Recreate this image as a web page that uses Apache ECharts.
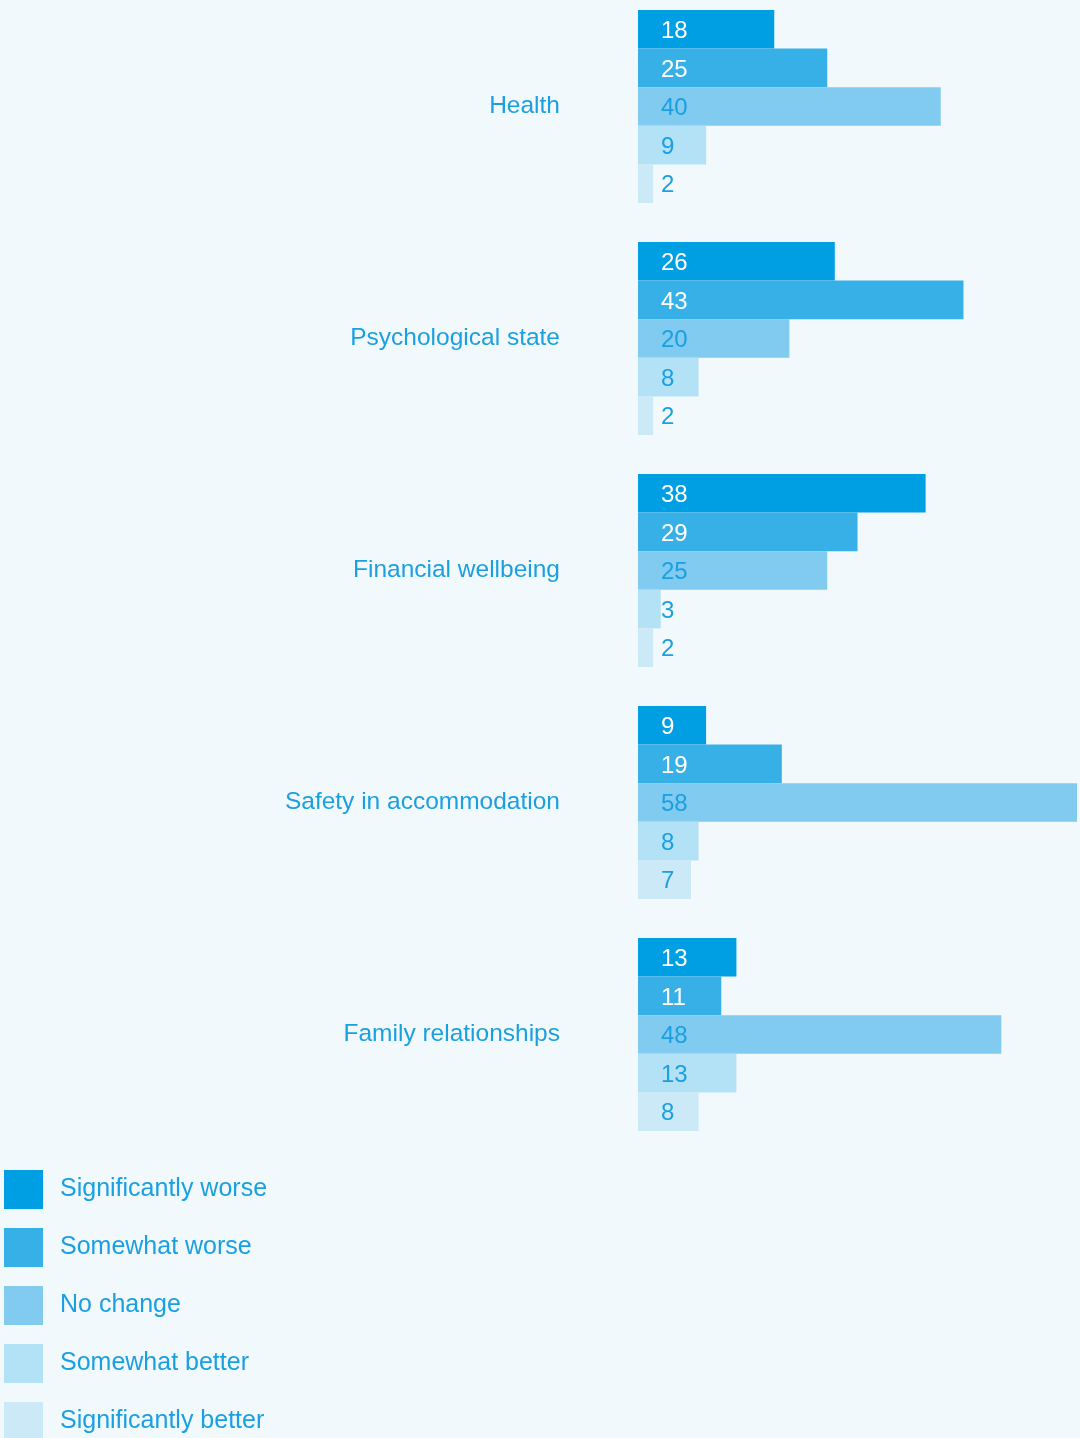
<!DOCTYPE html>
<html lang="en">
<head>
    <meta charset="UTF-8">
    <title>Change in wellbeing</title>
    <style>
        html, body { margin: 0; padding: 0; background: #f2f9fd; }
        #bar { width: 1080px; height: 1438px; }
    </style>
    <script src="https://cdn.jsdelivr.net/npm/echarts@6/dist/echarts.min.js"></script>
</head>
<body>
    <div id="bar"></div>
    <script>
        var categories = ['Health', 'Psychological state', 'Financial wellbeing', 'Safety in accommodation', 'Family relationships'];
        var seriesNames = ['Significantly worse', 'Somewhat worse', 'No change', 'Somewhat better', 'Significantly better'];
        var sigWorse = [18, 26, 38, 9, 13];
        var someWorse = [25, 43, 29, 19, 11];
        var noChange = [40, 20, 25, 58, 48];
        var someBetter = [9, 8, 3, 8, 13];
        var sigBetter = [2, 2, 2, 7, 8];

        var values = [sigWorse, someWorse, noChange, someBetter, sigBetter];
        var colors = ['#009fe3', '#36b0e6', '#80cbef', '#b3e1f6', '#cce9f7'];
        var labelColors = ['#ffffff', '#ffffff', '#1a9fe0', '#1a9fe0', '#1a9fe0'];
        var font = '"Liberation Sans", Arial, sans-serif';

        var series = values.map(function (d, i) {
            return {
                name: seriesNames[i],
                type: 'bar',
                barWidth: 38.6,
                barGap: 0,
                itemStyle: { color: colors[i] },
                label: {
                    show: true,
                    position: [23, '50%'],
                    offset: [0, 2],
                    verticalAlign: 'middle',
                    color: labelColors[i],
                    fontFamily: font,
                    fontSize: 24
                },
                data: d
            };
        });

        echarts.init(document.getElementById('bar')).setOption({
            backgroundColor: '#f2f9fd',
            animation: false,
            legend: {
                orient: 'vertical',
                left: 4,
                top: 1170,
                height: 300,
                padding: 0,
                itemWidth: 39,
                itemHeight: 39,
                itemGap: 19,
                icon: 'rect',
                textStyle: {
                    color: '#1a9fe0',
                    fontFamily: font,
                    fontSize: 25,
                    padding: [5, 0, 0, 12]
                },
                data: seriesNames
            },
            grid: {
                left: 638,
                right: 3,
                top: -9.5,
                height: 1160,
                containLabel: false,
                outerBoundsMode: 'none'
            },
            xAxis: {
                type: 'value',
                min: 0,
                max: 58,
                show: false
            },
            yAxis: {
                type: 'category',
                inverse: true,
                data: categories,
                axisLine: { show: false },
                axisTick: { show: false },
                axisLabel: {
                    margin: 78,
                    color: '#1a9fe0',
                    fontFamily: font,
                    fontSize: 24.5
                }
            },
            series: series
        });
    </script>
</body>
</html>
